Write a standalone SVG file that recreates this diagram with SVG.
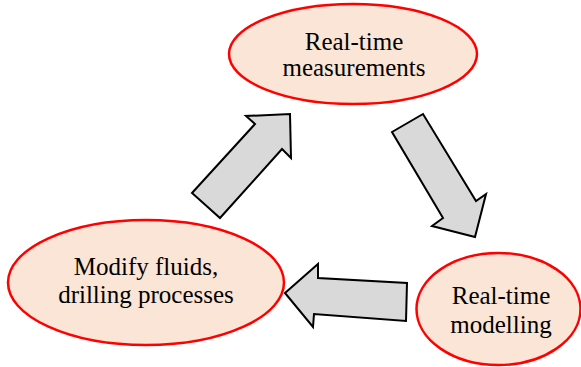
<svg xmlns="http://www.w3.org/2000/svg" width="581" height="367" viewBox="0 0 581 367">
<style>
.node{fill:#FBE5D6;stroke:#FF0000;stroke-width:2.5}
.arr{fill:#D9D9D9;stroke:#000;stroke-width:2;stroke-linejoin:miter}
.t{font-size:25px;fill:#000;text-anchor:middle}
</style>
<rect width="581" height="367" fill="#fff"/>
<g id="connectors">
<polygon class="arr" points="192,193 255,124 246,116 290,114 291,158 282,149 220,218"/>
<polygon class="arr" points="392,132 423,114 476,201 486,194 475,237 432,226 443,218"/>
<polygon class="arr" points="285,293 318,264 318,278 407,283 406,321 314,314 313,327"/>
</g>
<g font-family="'Liberation Serif', 'DejaVu Serif', serif">
<g id="measurements">
<ellipse class="node" cx="353" cy="54" rx="124" ry="50"/>
<text class="t" x="354" y="50">Real-time</text>
<text class="t" x="354" y="76">measurements</text>
</g>
<g id="modelling">
<ellipse class="node" cx="498.5" cy="309" rx="82" ry="56"/>
<text class="t" x="501" y="304">Real-time</text>
<text class="t" x="501" y="333">modelling</text>
</g>
<g id="modify">
<ellipse class="node" cx="146" cy="282.5" rx="138" ry="62.5"/>
<text class="t" x="146" y="275">Modify fluids,</text>
<text class="t" x="146" y="303">drilling processes</text>
</g>
</g>
</svg>
